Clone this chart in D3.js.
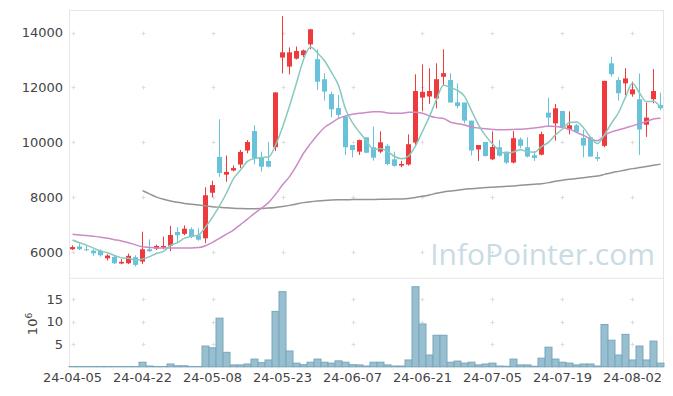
<!DOCTYPE html>
<html lang="ko">
<head>
    <meta charset="UTF-8">
    <title>Candlestick Chart</title>
    <script src="https://d3js.org/d3.v7.min.js"></script>
    <style>
        body {
            margin: 0;
            padding: 0;
            background-color: #fff;
        }
        svg {
            display: block;
            font-family: "DejaVu Sans", sans-serif;
        }
        .tick-label {
            font-size: 13px;
            fill: #444;
        }
    </style>
</head>
<body>
    <svg id="chart" width="673" height="396"></svg>

    <script>
        // trading days (yy-mm-dd)
        const dates = [
            "24-04-05","24-04-08","24-04-09","24-04-11","24-04-12","24-04-15","24-04-16","24-04-17","24-04-18","24-04-19",
            "24-04-22","24-04-23","24-04-24","24-04-25","24-04-26","24-04-29","24-04-30","24-05-02","24-05-03","24-05-07",
            "24-05-08","24-05-09","24-05-10","24-05-13","24-05-14","24-05-16","24-05-17","24-05-20","24-05-21","24-05-22",
            "24-05-23","24-05-24","24-05-27","24-05-28","24-05-29","24-05-30","24-05-31","24-06-03","24-06-04","24-06-05",
            "24-06-07","24-06-10","24-06-11","24-06-12","24-06-13","24-06-14","24-06-17","24-06-18","24-06-19","24-06-20",
            "24-06-21","24-06-24","24-06-25","24-06-26","24-06-27","24-06-28","24-07-01","24-07-02","24-07-03","24-07-04",
            "24-07-05","24-07-08","24-07-09","24-07-10","24-07-11","24-07-12","24-07-15","24-07-16","24-07-17","24-07-18",
            "24-07-19","24-07-22","24-07-23","24-07-24","24-07-25","24-07-26","24-07-29","24-07-30","24-07-31","24-08-01",
            "24-08-02","24-08-05","24-08-06","24-08-07","24-08-08"
        ];

        const open = [
            6100,6200,6100,6050,6050,5770,5820,5580,5590,5810,
            5650,6100,6120,6160,6230,6730,6660,6830,6610,6500,
            8160,9470,8820,8970,9190,9700,10410,9450,9320,9820,
            13090,12760,13050,13180,13570,13030,12300,11760,11250,10940,
            9900,9660,10180,9820,9660,9870,9380,9150,9190,9990,
            11630,11670,11600,12390,12270,11460,11450,10790,9740,10010,
            9380,9820,9660,9260,10110,9820,9530,9550,11080,10690,
            11140,10460,10620,10160,10180,9460,9870,12880,12270,12150,
            11750,11570,10640,11570,11360
        ];
        const high = [
            6240,6310,6220,6100,6100,5920,5860,5740,5940,5880,
            6740,6460,6270,6560,6950,6900,6970,6900,6870,8360,
            8600,10840,9520,9160,9720,10080,10620,9660,10020,11820,
            14600,13460,13490,13380,14140,13390,12520,11850,11730,10940,
            9900,10100,10180,10570,10400,9930,9660,9320,10290,12480,
            12840,12700,12880,13390,12520,12150,11450,10790,9900,10010,
            10400,10090,9660,10410,10180,10180,9680,10390,11630,11400,
            11140,11130,10670,10450,10180,9660,12240,13120,12370,12700,
            12210,12510,11450,12670,11810
        ];
        const low = [
            6070,6070,6030,5860,5830,5690,5560,5550,5560,5470,
            5560,6000,6070,6100,6030,6320,6610,6500,6410,6320,
            8000,8740,8560,8940,9060,9600,9200,8930,9090,9680,
            12510,12480,13020,13110,13390,11910,11520,10910,10870,9540,
            9450,9540,9600,9330,9600,9170,9110,9090,9150,9900,
            11130,11400,11240,12090,11450,11240,10690,9520,9320,9480,
            9350,9480,9210,9230,9780,9450,9320,9520,10570,10060,
            10530,10290,10330,9450,9480,9310,9820,12390,11520,11720,
            11660,9540,10200,11420,11180
        ];
        const close = [
            6180,6100,6070,5950,5880,5870,5590,5640,5860,5530,
            6100,6030,6220,6220,6620,6610,6850,6560,6450,8070,
            8440,8880,8920,9060,9650,10010,9420,9110,9110,11820,
            13280,13280,13330,13350,14120,12210,11850,11200,11000,9820,
            9720,10080,9620,9440,10000,9210,9140,9210,9930,11870,
            11840,11870,12300,12520,11450,11320,10790,9700,9900,9500,
            9830,9510,9260,10150,9870,9480,9430,10300,10900,11240,
            10550,10620,10380,9880,9480,9400,12240,12480,11790,12330,
            11930,10470,10900,11870,11240
        ];

        // moving averages as drawn (5, 20, 60 days)
        const ma5 = [
            6440,6340,6250,6140,6036,5974,5872,5786,5768,5698,
            5744,5832,5948,6020,6238,6340,6504,6572,6618,6908,
            7274,7680,8152,8674,8990,9304,9412,9450,9460,9894,
            10548,11320,12164,13012,13472,13258,12972,12546,12076,11216,
            10718,10364,10048,9736,9772,9670,9482,9400,9498,9872,
            10398,10944,11562,12080,11996,11892,11676,11156,10632,10242,
            9944,9688,9600,9650,9724,9654,9638,9846,9996,10270,
            10484,10722,10738,10534,10182,9952,10276,10696,11078,11648,
            12154,11800,11484,11500,11282
        ];
        const ma20 = [
            6645,6620,6600,6570,6540,6500,6450,6400,6340,6260,
            6190,6165,6150,6150,6150,6150,6150,6150,6160,6230,
            6350,6500,6650,6800,7000,7200,7410,7600,7800,8100,
            8450,8750,9150,9600,9950,10270,10540,10710,10870,10960,
            11020,11060,11090,11110,11115,11070,11060,11060,11100,11100,
            11060,10960,10900,10870,10730,10680,10630,10560,10520,10490,
            10470,10455,10460,10470,10480,10495,10520,10560,10590,10580,
            10540,10480,10360,10250,10120,10060,10250,10380,10450,10520,
            10600,10680,10760,10850,10880
        ];
        const ma60 = [
            null,null,null,null,null,null,null,null,null,null,
            8240,8120,8000,7920,7860,7810,7770,7740,7710,7680,
            7650,7630,7610,7595,7585,7580,7580,7585,7600,7625,
            7660,7700,7750,7800,7835,7860,7880,7895,7905,7908,
            7910,7912,7915,7918,7920,7925,7930,7935,7950,7990,
            8030,8080,8140,8190,8220,8250,8290,8310,8330,8350,
            8365,8380,8395,8410,8430,8450,8470,8490,8530,8580,
            8620,8650,8680,8710,8740,8770,8830,8890,8940,8990,
            9040,9080,9120,9160,9200
        ];

        // volume, millions of shares
        const volume = [
            0.05,0.05,0.05,0.05,0.05,0.05,0.05,0.05,0.05,0.05,
            1.0,0.15,0.05,0.05,0.6,0.2,0.2,0.05,0.05,4.6,
            4.2,10.8,3.2,0.4,0.4,0.6,1.7,0.9,1.5,12.3,
            16.7,3.5,0.8,0.45,1.0,1.7,1.0,0.8,1.3,1.0,
            0.45,0.4,0.15,1.0,1.0,0.4,0.15,0.15,1.5,17.8,
            9.5,2.6,7.0,7.0,1.0,1.25,0.8,1.0,0.4,0.6,
            0.8,0.15,0.1,1.7,0.4,0.4,0.1,1.9,4.35,1.7,
            1.0,0.8,0.4,0.6,0.6,0.15,9.4,5.9,2.6,7.2,
            1.5,4.6,1.5,5.7,0.8
        ];

        const priceTicks = [6000, 8000, 10000, 12000, 14000];
        const volumeTicks = [5, 10, 15];

        const upColor = "#ef3a3d";
        const downColor = "#68c3da";
        const gridColor = "#dedede";

        const svg = d3.select("#chart");
        const left = 69.5, right = 663.5;
        const priceTop = 10, priceBottom = 278.3;
        const volTop = 278.3, volBottom = 366.7;

        const x = d3.scalePoint()
            .domain(dates)
            .range([left, right])
            .padding(0.43);
        const yPrice = d3.scaleLinear().domain([5041, 14824]).range([priceBottom, priceTop]);
        const yVol = d3.scaleLinear().domain([0, 19.67]).range([volBottom, volTop]);

        const xTicks = dates.filter((d, i) => i % 10 === 0);

        // frame
        const frame = svg.append("g").attr("stroke", "#e6e6e6").attr("fill", "none");
        frame.append("rect")
            .attr("x", left).attr("y", priceTop + 0.5)
            .attr("width", right - left).attr("height", volBottom - priceTop);
        frame.append("line")
            .attr("x1", left).attr("x2", right)
            .attr("y1", volTop).attr("y2", volTop);

        // grid crosses
        const crosses = svg.append("g").attr("stroke", gridColor).attr("stroke-width", 1);
        function drawCrosses(yScale, ticks) {
            xTicks.forEach(d => {
                ticks.forEach(t => {
                    const cx = Math.round(x(d)) + 0.5;
                    const cy = Math.round(yScale(t)) + 0.5;
                    crosses.append("line").attr("x1", cx - 2).attr("x2", cx + 2).attr("y1", cy).attr("y2", cy);
                    crosses.append("line").attr("x1", cx).attr("x2", cx).attr("y1", cy - 2).attr("y2", cy + 2);
                });
            });
        }
        drawCrosses(yPrice, priceTicks);
        drawCrosses(yVol, volumeTicks);

        // watermark
        svg.append("text")
            .attr("x", 655)
            .attr("y", 265)
            .attr("text-anchor", "end")
            .style("font-family", "'Open Sans', sans-serif")
            .style("font-size", "30px")
            .attr("fill", "#c9dbe5")
            .text("InfoPointer.com");

        // volume bars
        svg.append("g")
            .selectAll("rect")
            .data(volume)
            .enter()
            .append("rect")
            .attr("x", (d, i) => x(dates[i]) - 3.5)
            .attr("y", d => yVol(d))
            .attr("width", 7)
            .attr("height", d => yVol(0) - yVol(d))
            .attr("fill", "#98bfcf")
            .attr("stroke", "#79a7bd")
            .attr("stroke-width", 1);

        // candles
        const candles = svg.append("g")
            .selectAll("g")
            .data(dates)
            .enter()
            .append("g");
        candles.append("line")
            .attr("x1", d => x(d)).attr("x2", d => x(d))
            .attr("y1", (d, i) => yPrice(high[i]))
            .attr("y2", (d, i) => yPrice(low[i]))
            .attr("stroke", (d, i) => close[i] >= open[i] ? upColor : downColor)
            .attr("stroke-width", 1);
        candles.append("rect")
            .attr("x", d => x(d) - 2.5)
            .attr("y", (d, i) => yPrice(Math.max(open[i], close[i])))
            .attr("width", 5)
            .attr("height", (d, i) => Math.max(1, Math.abs(yPrice(open[i]) - yPrice(close[i]))))
            .attr("fill", (d, i) => close[i] >= open[i] ? upColor : downColor);

        // moving averages
        const maLine = d3.line()
            .defined(d => d.v != null)
            .x(d => x(d.date))
            .y(d => yPrice(d.v))
            .curve(d3.curveMonotoneX);
        [[ma60, "#939393"], [ma20, "#cc8bc5"], [ma5, "#88c9be"]].forEach(([series, color]) => {
            svg.append("path")
                .datum(series.map((v, i) => ({ date: dates[i], v: v })))
                .attr("d", maLine)
                .attr("fill", "none")
                .attr("stroke", color)
                .attr("stroke-width", 1.5);
        });

        // axes labels
        svg.append("g")
            .selectAll("text")
            .data(priceTicks)
            .enter()
            .append("text")
            .attr("class", "tick-label")
            .attr("x", 63)
            .attr("y", d => yPrice(d))
            .attr("dy", "0.35em")
            .attr("text-anchor", "end")
            .text(d => d);

        svg.append("g")
            .selectAll("text")
            .data(volumeTicks)
            .enter()
            .append("text")
            .attr("class", "tick-label")
            .attr("x", 63)
            .attr("y", d => yVol(d))
            .attr("dy", "0.35em")
            .attr("text-anchor", "end")
            .text(d => d);

        svg.append("g")
            .selectAll("text")
            .data(xTicks)
            .enter()
            .append("text")
            .attr("class", "tick-label")
            .attr("x", d => x(d))
            .attr("y", 382)
            .attr("text-anchor", "middle")
            .text(d => d);

        const unit = svg.append("text")
            .attr("class", "tick-label")
            .attr("transform", "translate(37,324) rotate(-90)")
            .attr("text-anchor", "middle");
        unit.append("tspan").text("10");
        unit.append("tspan").attr("dy", "-5").style("font-size", "9px").text("6");
    </script>
</body>
</html>
